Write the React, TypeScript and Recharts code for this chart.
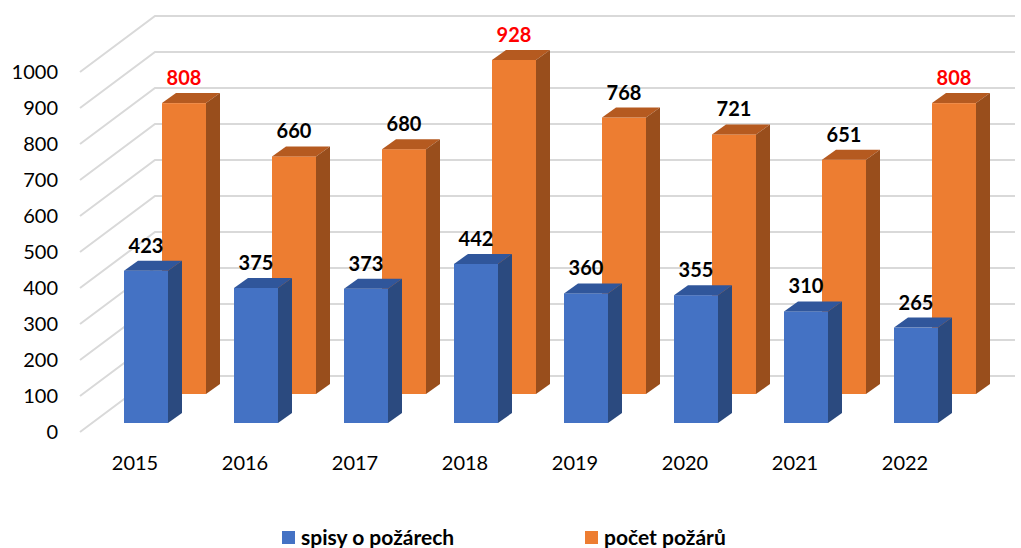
import { BarChart, Bar, XAxis, YAxis, CartesianGrid, Legend, LabelList } from 'recharts'

const years = ['2015', '2016', '2017', '2018', '2019', '2020', '2021', '2022']
const spisy = [423, 375, 373, 442, 360, 355, 310, 265]
const pocet = [808, 660, 680, 928, 768, 721, 651, 808]
const pocetLabelColors = ['#ff0000', '#000000', '#000000', '#ff0000', '#000000', '#000000', '#000000', '#ff0000']
const yTicks = [0, 100, 200, 300, 400, 500, 600, 700, 800, 900, 1000]

const data = years.map((year, i) => ({ year, spisy: spisy[i], pocet: pocet[i] }))

const FONT = 'Lato, "Open Sans", sans-serif'
const DEPTH_X = 14
const DEPTH_Y = -10

// blue row sits in front, orange row behind it
const BLUE = { shiftX: -44, shiftY: -9, front: '#4472c4', top: '#30569b', side: '#2b4a7f' }
const ORANGE = { shiftX: 38, shiftY: -38, front: '#ed7d31', top: '#b55a20', side: '#994e1c' }

function Box3D(props: any) {
  const { x, y, width, height, shiftX, shiftY, front, top, side } = props
  if (!height || height <= 0) return null
  const fx = x + shiftX
  const fy = y + shiftY
  const w = width
  const h = height
  return (
    <g>
      <rect x={fx} y={fy} width={w} height={h} fill={front} />
      <polygon
        points={`${fx},${fy} ${fx + DEPTH_X},${fy + DEPTH_Y} ${fx + w + DEPTH_X},${fy + DEPTH_Y} ${fx + w},${fy}`}
        fill={top}
      />
      <polygon
        points={`${fx + w},${fy} ${fx + w + DEPTH_X},${fy + DEPTH_Y} ${fx + w + DEPTH_X},${fy + h + DEPTH_Y} ${fx + w},${fy + h}`}
        fill={side}
      />
    </g>
  )
}

function makeLabel(shift: { shiftX: number; shiftY: number }, colors?: string[]) {
  return (p: any) => {
    const { x, y, width, value, index } = p
    return (
      <text
        x={x + shift.shiftX + width / 2}
        y={y + shift.shiftY - 18}
        textAnchor="middle"
        fontFamily={FONT}
        fontWeight="bold"
        fontSize={20}
        fill={colors ? colors[index] : '#000000'}
      >
        {value}
      </text>
    )
  }
}

function GridLine(p: any) {
  const y = p.y1
  return (
    <polyline
      key={p.key}
      points={`80,${y} 155,${y - 56} 1015,${y - 56}`}
      fill="none"
      stroke="#d9d9d9"
      strokeWidth={2}
    />
  )
}

function YTick({ y, payload }: any) {
  return (
    <text x={58} y={y + 7} textAnchor="end" fontFamily={FONT} fontSize={20} fill="#000000">
      {payload.value}
    </text>
  )
}

function XTick({ x, payload }: any) {
  return (
    <text x={x - 33} y={470} textAnchor="middle" fontFamily={FONT} fontSize={20} fill="#000000">
      {payload.value}
    </text>
  )
}

function LegendContent() {
  const item = (left: number, color: string, label: string) => (
    <div style={{ position: 'absolute', left, top: 7, display: 'flex', alignItems: 'center', height: 20 }}>
      <span style={{ width: 13, height: 13, background: color, display: 'inline-block', marginRight: 6 }} />
      <span style={{ fontFamily: FONT, fontWeight: 'bold', fontSize: 21, color: '#000', lineHeight: '20px' }}>
        {label}
      </span>
    </div>
  )
  return (
    <div style={{ position: 'relative', height: 28, width: 1021 }}>
      {item(282, '#4472c4', 'spisy o požárech')}
      {item(585, '#ed7d31', 'počet požárů')}
    </div>
  )
}

export default function App() {
  return (
    <div style={{ position: 'absolute', left: 0, top: 0, width: 1021, height: 548, background: '#ffffff' }}>
      <BarChart
        width={1021}
        height={548}
        data={data}
        margin={{ top: 72, right: 28, bottom: 0, left: 0 }}
        barSize={44}
        barGap={0}
      >
        <CartesianGrid vertical={false} horizontal={GridLine} syncWithTicks />
        <XAxis dataKey="year" height={88} axisLine={false} tickLine={false} tick={<XTick />} interval={0} />
        <YAxis
          width={113}
          domain={[0, 1000]}
          ticks={yTicks}
          axisLine={false}
          tickLine={false}
          tick={<YTick />}
          interval={0}
        />
        <Legend verticalAlign="bottom" wrapperStyle={{ left: 0, bottom: 0, width: 1021 }} content={<LegendContent />} />
        <Bar
          dataKey="pocet"
          name="počet požárů"
          fill={ORANGE.front}
          isAnimationActive={false}
          shape={(p: any) => <Box3D {...p} {...ORANGE} />}
        >
          <LabelList dataKey="pocet" content={makeLabel(ORANGE, pocetLabelColors)} />
        </Bar>
        <Bar
          dataKey="spisy"
          name="spisy o požárech"
          fill={BLUE.front}
          isAnimationActive={false}
          shape={(p: any) => <Box3D {...p} {...BLUE} />}
        >
          <LabelList dataKey="spisy" content={makeLabel(BLUE)} />
        </Bar>
      </BarChart>
    </div>
  )
}
